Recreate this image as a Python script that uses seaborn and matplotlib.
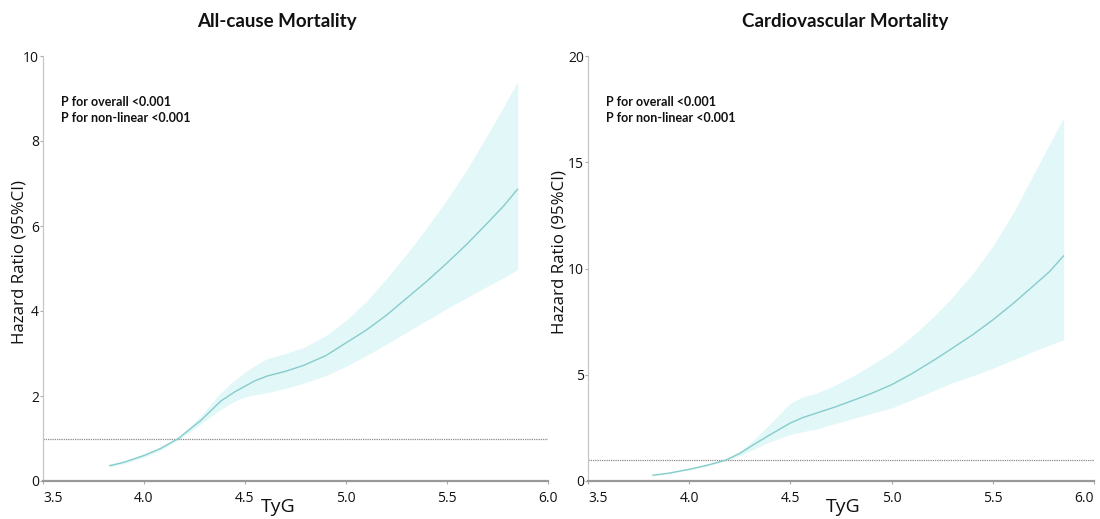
import matplotlib
matplotlib.use("Agg")
import matplotlib.pyplot as plt
import seaborn as sns
import pandas as pd

# ---------------- data ----------------
allcause_tyg = [3.83, 3.90, 4.00, 4.08, 4.17, 4.28, 4.38, 4.45, 4.50, 4.55, 4.61, 4.70,
                4.79, 4.90, 5.00, 5.10, 5.20, 5.30, 5.40, 5.50, 5.60, 5.70, 5.78, 5.85]
allcause_hr = [0.36, 0.44, 0.60, 0.76, 1.00, 1.42, 1.88, 2.10, 2.23, 2.36, 2.47, 2.58,
               2.72, 2.95, 3.25, 3.55, 3.90, 4.30, 4.70, 5.13, 5.58, 6.07, 6.47, 6.87]
allcause_upper = [0.39, 0.47, 0.64, 0.80, 1.03, 1.52, 2.08, 2.38, 2.56, 2.72, 2.88, 3.00,
                  3.14, 3.42, 3.78, 4.22, 4.76, 5.34, 5.96, 6.62, 7.34, 8.14, 8.80, 9.40]
allcause_lower = [0.33, 0.41, 0.56, 0.72, 0.97, 1.34, 1.69, 1.88, 1.98, 2.03, 2.08, 2.18,
                  2.30, 2.48, 2.70, 2.95, 3.22, 3.50, 3.78, 4.06, 4.32, 4.58, 4.78, 4.98]

cvd_tyg = [3.82, 3.90, 4.00, 4.08, 4.18, 4.25, 4.32, 4.40, 4.50, 4.56, 4.63, 4.72,
           4.82, 4.90, 5.00, 5.10, 5.22, 5.30, 5.40, 5.50, 5.60, 5.70, 5.78, 5.85]
cvd_hr = [0.27, 0.37, 0.55, 0.72, 0.98, 1.30, 1.72, 2.18, 2.73, 2.98, 3.20, 3.48,
          3.83, 4.12, 4.53, 5.05, 5.75, 6.25, 6.88, 7.58, 8.35, 9.18, 9.85, 10.6]
cvd_upper = [0.30, 0.40, 0.58, 0.76, 1.02, 1.40, 1.95, 2.70, 3.67, 3.95, 4.14, 4.50,
             5.00, 5.45, 6.05, 6.80, 7.85, 8.65, 9.75, 11.05, 12.6, 14.4, 15.85, 17.1]
cvd_lower = [0.25, 0.34, 0.52, 0.68, 0.95, 1.20, 1.50, 1.85, 2.19, 2.32, 2.45, 2.70,
             2.97, 3.18, 3.44, 3.82, 4.30, 4.62, 4.95, 5.31, 5.70, 6.10, 6.40, 6.65]

titles = ["All-cause Mortality", "Cardiovascular Mortality"]
annot = "P for overall <0.001\nP for non-linear <0.001"
x_ticks = [3.5, 4.0, 4.5, 5.0, 5.5, 6.0]
x_ticklabels = ["3.5", "4.0", "4.5", "5.0", "5.5", "6.0"]
y_ticks_list = [[0, 2, 4, 6, 8, 10], [0, 5, 10, 15, 20]]
y_lims = [10, 20]

# ---------------- style ----------------
sns.set_theme(style="white")
plt.rcParams['font.family'] = ['Open Sans', 'DejaVu Sans']

line_color = "#86cccb"
band_color = "#e2f7f8"

fig = plt.figure(figsize=(11, 5.19), dpi=100)
W, H = 1100, 519
axes_px = [(43, 548), (588, 1094)]
top_px, bottom_px = 56, 481

datasets = [
    (allcause_tyg, allcause_hr, allcause_lower, allcause_upper),
    (cvd_tyg, cvd_hr, cvd_lower, cvd_upper),
]
title_x = [277, 845]
xlabel_x = [278, 843]
ylabel_x = [20, 559]
ylabel_y = [262, 252]

for i, ((x0, x1), (tyg, hr, lo, up)) in enumerate(zip(axes_px, datasets)):
    ax = fig.add_axes([x0 / W, (H - bottom_px) / H, (x1 - x0) / W, (bottom_px - top_px) / H])
    ax.fill_between(tyg, lo, up, color=band_color, linewidth=0, zorder=1)
    df = pd.DataFrame({"TyG": tyg, "HR": hr})
    sns.lineplot(data=df, x="TyG", y="HR", ax=ax, color=line_color, linewidth=1.0, zorder=3)
    ax.axhline(1, color="#8a8a8a", linestyle=(0, (1, 0.8)), linewidth=0.9, zorder=2)

    ax.set_xlim(3.5, 6.0)
    ax.set_ylim(0, y_lims[i])
    ax.set_xticks(x_ticks)
    ax.set_xticklabels(x_ticklabels)
    ax.set_yticks(y_ticks_list[i])
    ax.set_yticklabels([str(v) for v in y_ticks_list[i]])
    labels = ax.get_xticklabels()
    labels[0].set_horizontalalignment("left")
    if i == 1:
        labels[-1].set_horizontalalignment("right")

    ax.tick_params(axis="x", length=2, width=0.8, color="#aaaaaa", pad=5,
                   labelsize=10, labelcolor="#111111")
    ax.tick_params(axis="y", length=2, width=0.8, color="#aaaaaa", pad=1,
                   labelsize=10, labelcolor="#111111")
    ax.tick_params(bottom=True, left=True)

    for s in ["top", "right"]:
        ax.spines[s].set_visible(False)
    ax.spines["left"].set_color("#c2c8c8")
    ax.spines["left"].set_linewidth(0.9)
    ax.spines["bottom"].set_color("#999999")
    ax.spines["bottom"].set_linewidth(1.6)

    ax.set_xlabel("")
    ax.set_ylabel("")
    fig.text(xlabel_x[i] / W, (H - 507) / H, "TyG", ha="center", va="center",
             fontsize=14, color="#111111")
    fig.text(ylabel_x[i] / W, (H - ylabel_y[i]) / H, "Hazard Ratio (95%CI)",
             rotation=90, ha="center", va="center", fontsize=12.2, color="#111111")
    fig.text(title_x[i] / W, (H - 22) / H, titles[i], ha="center", va="center",
             fontsize=13.5, fontweight="bold", family=["Lato", "DejaVu Sans"], color="#111111")
    ax.text(0.035, 0.905, annot, transform=ax.transAxes, ha="left", va="top",
            fontsize=9, fontweight="bold", family=["Lato", "DejaVu Sans"],
            color="#111111", linespacing=1.35)

fig.savefig("out.png", dpi=100)
